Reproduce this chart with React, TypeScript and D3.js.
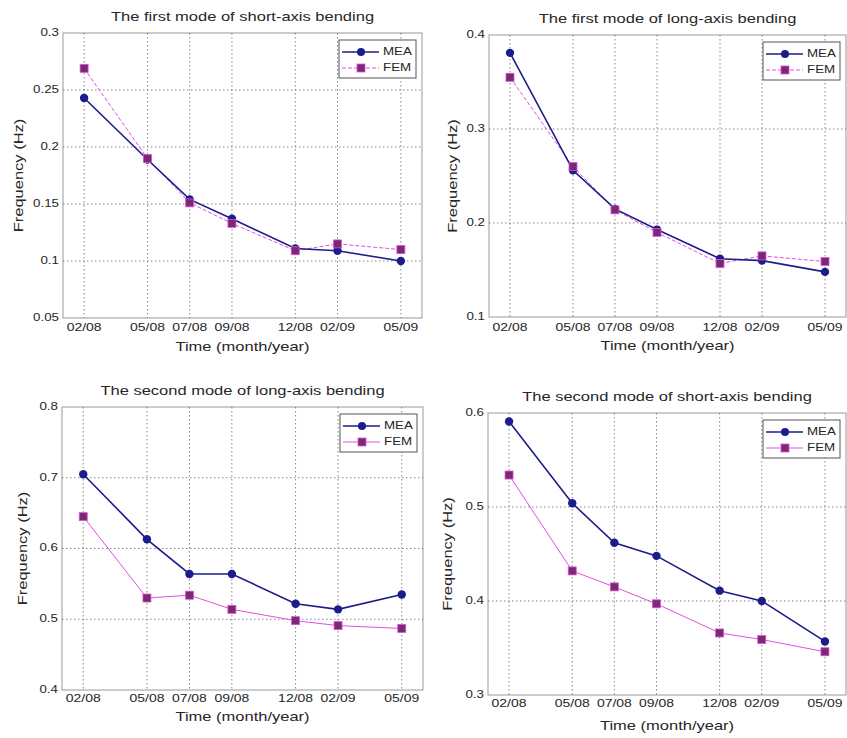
import * as d3 from 'd3'

// x positions are months counted from 02/08
const monthLabels = ['02/08', '05/08', '07/08', '09/08', '12/08', '02/09', '05/09']
const monthIndex = [0, 3, 5, 7, 10, 12, 15]

const shortFirstMEA = [0.243, 0.189, 0.154, 0.137, 0.111, 0.109, 0.1]
const shortFirstFEM = [0.269, 0.19, 0.151, 0.133, 0.109, 0.115, 0.11]
const longFirstMEA = [0.381, 0.256, 0.215, 0.193, 0.162, 0.16, 0.148]
const longFirstFEM = [0.355, 0.26, 0.214, 0.19, 0.157, 0.165, 0.159]
const longSecondMEA = [0.705, 0.613, 0.564, 0.564, 0.522, 0.514, 0.535]
const longSecondFEM = [0.645, 0.53, 0.534, 0.514, 0.498, 0.491, 0.487]
const shortSecondMEA = [0.591, 0.504, 0.462, 0.448, 0.411, 0.4, 0.357]
const shortSecondFEM = [0.534, 0.432, 0.415, 0.397, 0.366, 0.359, 0.346]

const shortFirstTicks = [0.05, 0.1, 0.15, 0.2, 0.25, 0.3]
const longFirstTicks = [0.1, 0.2, 0.3, 0.4]
const longSecondTicks = [0.4, 0.5, 0.6, 0.7, 0.8]
const shortSecondTicks = [0.3, 0.4, 0.5, 0.6]

const MEA_COLOR = '#1c1c8a'
const FEM_LINE = '#e050e0'
const FEM_MARK = '#7a2a70'
const FONT = 'Liberation Sans, Arial, sans-serif'
const STRETCH = 1.27

// the scanned figure's lettering is wider than Arial, so text is stretched along its baseline
function WideText({
  x,
  y,
  size,
  anchor = 'middle',
  rotate = 0,
  children,
}: {
  x: number
  y: number
  size: number
  anchor?: 'start' | 'middle' | 'end'
  rotate?: number
  children: string
}) {
  return (
    <text
      transform={`translate(${x},${y}) rotate(${rotate}) scale(${STRETCH},1)`}
      textAnchor={anchor}
      dominantBaseline="middle"
      fontSize={size}
      fill="#262626"
    >
      {children}
    </text>
  )
}

interface PanelProps {
  title: string
  mea: number[]
  fem: number[]
  ticks: number[]
  left: number
  right: number
  top: number
  bottom: number
  titleY: number
  tickY: number
  labelY: number
  yLabelX: number
  femDash?: string
}

function Panel(p: PanelProps) {
  const x = d3.scaleLinear().domain([-1, 16]).range([p.left, p.right])
  const y = d3
    .scaleLinear()
    .domain([p.ticks[0], p.ticks[p.ticks.length - 1]])
    .range([p.bottom, p.top])

  const line = d3
    .line<number>()
    .x((_, i) => x(monthIndex[i]))
    .y((d) => y(d))

  const grid = '#555'
  const lx = p.right - 83
  const ly = p.top + 7

  return (
    <g fontFamily={FONT}>
      <WideText x={(p.left + p.right) / 2} y={p.titleY} size={13}>
        {p.title}
      </WideText>
      <rect
        x={p.left}
        y={p.top}
        width={p.right - p.left}
        height={p.bottom - p.top}
        fill="#fff"
        stroke="#999"
        strokeWidth={1}
      />
      {monthIndex.map((m, i) => (
        <g key={'x' + i}>
          <line
            x1={x(m)}
            x2={x(m)}
            y1={p.top}
            y2={p.bottom}
            stroke={grid}
            strokeWidth={0.7}
            strokeDasharray="1.5,2.5"
          />
          <WideText x={x(m)} y={p.tickY} size={11}>
            {monthLabels[i]}
          </WideText>
        </g>
      ))}
      {p.ticks.map((t, i) => (
        <g key={'y' + i}>
          {i > 0 && i < p.ticks.length - 1 && (
            <line
              x1={p.left}
              x2={p.right}
              y1={y(t)}
              y2={y(t)}
              stroke={grid}
              strokeWidth={0.7}
              strokeDasharray="1.5,2.5"
            />
          )}
          <WideText x={p.left - 4} y={y(t)} size={10.5} anchor="end">
            {String(t)}
          </WideText>
        </g>
      ))}
      <WideText x={(p.left + p.right) / 2} y={p.labelY} size={13}>
        Time (month/year)
      </WideText>
      <WideText x={p.yLabelX} y={(p.top + p.bottom) / 2} size={13} rotate={-90}>
        Frequency (Hz)
      </WideText>

      <path
        d={line(p.fem) ?? ''}
        fill="none"
        stroke={FEM_LINE}
        strokeWidth={1}
        strokeDasharray={p.femDash}
      />
      <path d={line(p.mea) ?? ''} fill="none" stroke={MEA_COLOR} strokeWidth={1.6} />
      {p.mea.map((v, i) => (
        <circle key={'m' + i} cx={x(monthIndex[i])} cy={y(v)} r={4.2} fill={MEA_COLOR} />
      ))}
      {p.fem.map((v, i) => (
        <rect
          key={'f' + i}
          x={x(monthIndex[i]) - 4}
          y={y(v) - 4}
          width={8}
          height={8}
          fill={FEM_MARK}
          stroke={FEM_LINE}
          strokeWidth={0.8}
        />
      ))}

      <rect x={lx} y={ly} width={77} height={38} fill="#fff" stroke="#555" strokeWidth={1} />
      <line x1={lx + 3} x2={lx + 40} y1={ly + 12} y2={ly + 12} stroke={MEA_COLOR} strokeWidth={1.6} />
      <circle cx={lx + 22} cy={ly + 12} r={4} fill={MEA_COLOR} />
      <WideText x={lx + 44} y={ly + 12} size={10.5} anchor="start">
        MEA
      </WideText>
      <line
        x1={lx + 3}
        x2={lx + 40}
        y1={ly + 28}
        y2={ly + 28}
        stroke={FEM_LINE}
        strokeWidth={1}
        strokeDasharray={p.femDash}
      />
      <rect x={lx + 18} y={ly + 24} width={8} height={8} fill={FEM_MARK} stroke={FEM_LINE} strokeWidth={0.8} />
      <WideText x={lx + 44} y={ly + 28} size={10.5} anchor="start">
        FEM
      </WideText>
    </g>
  )
}

export default function App() {
  return (
    <svg
      width={847}
      height={738}
      style={{ position: 'absolute', left: 0, top: 0, background: '#fff' }}
    >
      <rect width={847} height={738} fill="#fff" />
      <Panel
        title="The first mode of short-axis bending"
        mea={shortFirstMEA}
        fem={shortFirstFEM}
        ticks={shortFirstTicks}
        left={63}
        right={422}
        top={33}
        bottom={318}
        titleY={18}
        tickY={328}
        labelY={348}
        yLabelX={20}
        femDash="4,2"
      />
      <Panel
        title="The first mode of long-axis bending"
        mea={longFirstMEA}
        fem={longFirstFEM}
        ticks={longFirstTicks}
        left={489}
        right={846}
        top={35}
        bottom={317}
        titleY={20}
        tickY={328}
        labelY={347}
        yLabelX={454}
        femDash="4,2"
      />
      <Panel
        title="The second mode of long-axis bending"
        mea={longSecondMEA}
        fem={longSecondFEM}
        ticks={longSecondTicks}
        left={62}
        right={423}
        top={407}
        bottom={690}
        titleY={392}
        tickY={699}
        labelY={718}
        yLabelX={24}
      />
      <Panel
        title="The second mode of short-axis bending"
        mea={shortSecondMEA}
        fem={shortSecondFEM}
        ticks={shortSecondTicks}
        left={488}
        right={846}
        top={413}
        bottom={695}
        titleY={398}
        tickY={704}
        labelY={727}
        yLabelX={449}
      />
    </svg>
  )
}
